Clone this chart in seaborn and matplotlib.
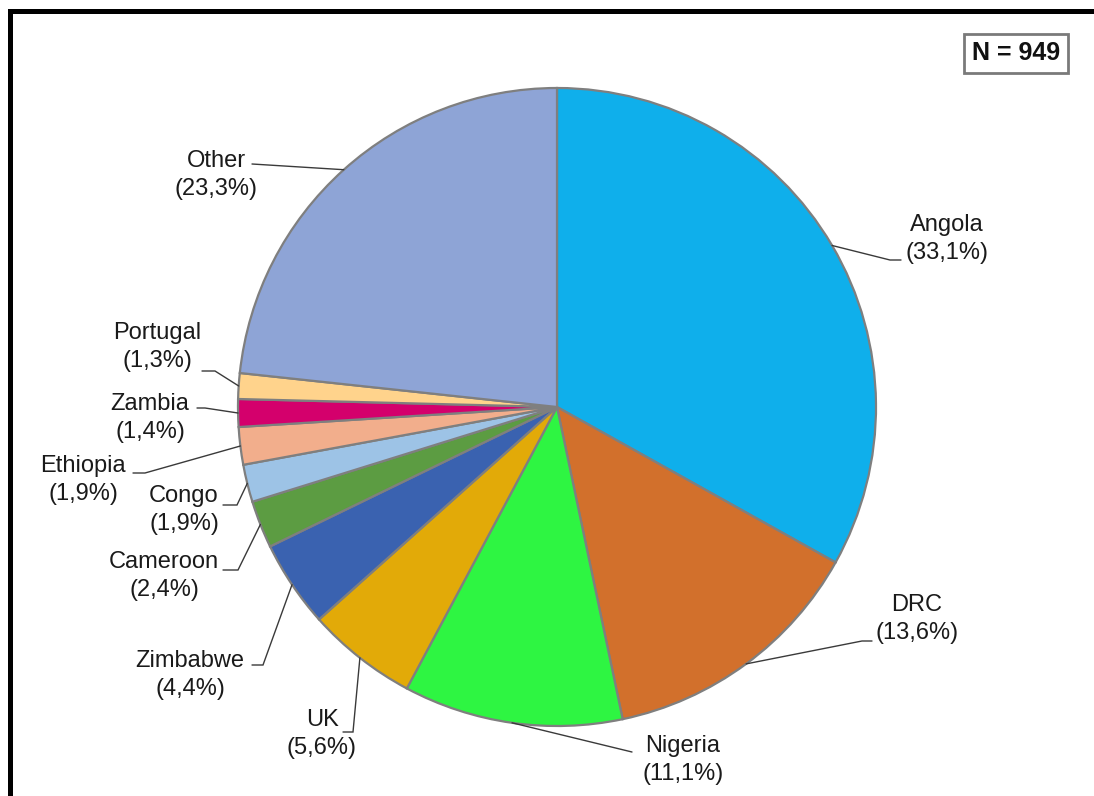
import matplotlib
matplotlib.use("Agg")
import matplotlib.pyplot as plt
import seaborn as sns
from matplotlib.patches import Rectangle
import numpy as np

# Countries of origin and their share of the sample (%)
countries = ["Angola", "DRC", "Nigeria", "UK", "Zimbabwe", "Cameroon",
             "Congo", "Ethiopia", "Zambia", "Portugal", "Other"]
shares = [33.1, 13.6, 11.1, 5.6, 4.4, 2.4, 1.9, 1.9, 1.4, 1.3, 23.3]
sample_size = 949

slice_colors = ["#0fafeb", "#d2702c", "#2ef542", "#e2aa08", "#3a62b0",
                "#5c9c42", "#9dc3e6", "#f2ae8c", "#d4006c", "#ffd38c",
                "#8ea4d6"]

# Label placement in pixels (x from left, y from top)
label_xy = {
    "Angola": (947, 239), "DRC": (917, 619), "Nigeria": (683, 760),
    "UK": (322, 734), "Zimbabwe": (190, 675), "Cameroon": (164, 576),
    "Congo": (184, 510), "Ethiopia": (83, 480), "Zambia": (150, 418),
    "Portugal": (157, 347), "Other": (216, 175),
}
# Leader line knee and end points in pixels
leader_knee = {
    "Angola": (890, 260), "DRC": (862, 641), "Nigeria": (632, 752),
    "UK": (353, 732), "Zimbabwe": (263, 665), "Cameroon": (238, 570),
    "Congo": (237, 505), "Ethiopia": (145, 473), "Zambia": (205, 408),
    "Portugal": (215, 371), "Other": (252, 164),
}
leader_end = {
    "Angola": (901, 260), "DRC": (872, 641), "Nigeria": (632, 752),
    "UK": (343, 732), "Zimbabwe": (252, 665), "Cameroon": (223, 570),
    "Congo": (223, 505), "Ethiopia": (133, 473), "Zambia": (197, 408),
    "Portugal": (202, 371), "Other": (252, 164),
}

W, H = 1094, 796
sns.set_theme(style="white")
plt.rcParams["font.family"] = ["Liberation Sans", "DejaVu Sans"]

fig = plt.figure(figsize=(W / 100, H / 100), dpi=100)
fig.patch.set_facecolor("white")
ax = fig.add_axes([0, 0, 1, 1])


def px(p):
    return (p[0], H - p[1])


center = px((557, 407))
radius = 319
palette = sns.color_palette(slice_colors)
wedges, _ = ax.pie(shares, colors=palette, startangle=90, counterclock=False,
                   center=center, radius=radius, frame=True,
                   wedgeprops=dict(edgecolor="#7f7f7f", linewidth=1.6))
ax.set_xlim(0, W)
ax.set_ylim(0, H)
ax.set_axis_off()

for name, val, w in zip(countries, shares, wedges):
    mid = np.deg2rad((w.theta1 + w.theta2) / 2)
    start = (center[0] + radius * np.cos(mid), center[1] + radius * np.sin(mid))
    knee = px(leader_knee[name])
    end = px(leader_end[name])
    ax.plot([start[0], knee[0], end[0]], [start[1], knee[1], end[1]],
            color="#3a3a3a", lw=1.0, solid_joinstyle="miter")
    label = f"{name}\n({val:.1f}%)".replace(".", ",")
    lx, ly = px(label_xy[name])
    ax.text(lx, ly, label, ha="center", va="center", multialignment="center",
            fontsize=17, color="#1a1a1a", linespacing=1.4)

# Sample size box
fig.text(1016 / W, 1 - 53 / H, f"N = {sample_size}", ha="center", va="center",
         fontsize=18, fontweight="bold", color="#111111",
         bbox=dict(boxstyle="square,pad=0.3", facecolor="white",
                   edgecolor="#7a7a7a", linewidth=2))

# Heavy frame along the top and left edges
fig.add_artist(Rectangle((8 / W, 1 - 14 / H), 1 - 8 / W, 5 / H,
                         transform=fig.transFigure, facecolor="black",
                         edgecolor="none"))
fig.add_artist(Rectangle((8 / W, 0), 5 / W, 1 - 9 / H,
                         transform=fig.transFigure, facecolor="black",
                         edgecolor="none"))

fig.savefig("out.png", dpi=100, facecolor="white")
